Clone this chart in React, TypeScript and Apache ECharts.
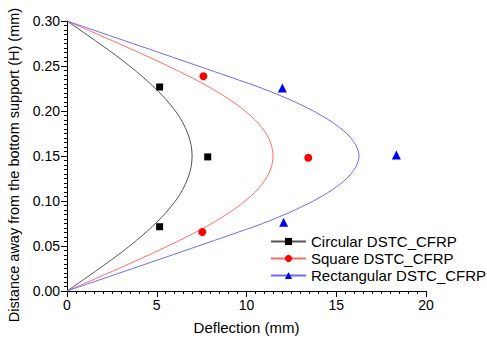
import React, { useEffect, useRef } from "react";
import * as echarts from "echarts";

// Height positions (H) along the column, used for fitted curves
const curveHeights = [
  0, 0.0125, 0.025, 0.0375, 0.05, 0.0625, 0.075, 0.0875, 0.1, 0.1125, 0.125, 0.1375, 0.15,
  0.1625, 0.175, 0.1875, 0.2, 0.2125, 0.225, 0.2375, 0.25, 0.2625, 0.275, 0.2875, 0.3,
];
// Fitted deflection curves (mm)
const circularCurve = [
  0, 0.91, 1.80, 2.67, 3.49, 4.24, 4.93, 5.53, 6.04, 6.44, 6.73, 6.91, 6.97,
  6.91, 6.73, 6.44, 6.04, 5.53, 4.93, 4.24, 3.49, 2.67, 1.80, 0.91, 0,
];
const squareCurve = [
  0, 1.45, 2.88, 4.28, 5.62, 6.90, 8.06, 9.07, 9.92, 10.60, 11.09, 11.38, 11.48,
  11.38, 11.09, 10.60, 9.92, 9.07, 8.06, 6.90, 5.62, 4.28, 2.88, 1.45, 0,
];
const rectCurve = [
  0, 1.83, 3.66, 5.49, 7.31, 9.12, 10.90, 12.42, 13.72, 14.78, 15.58, 16.08, 16.27,
  16.08, 15.58, 14.78, 13.72, 12.42, 10.90, 9.12, 7.31, 5.49, 3.66, 1.83, 0,
];

// Measured points: [deflection (mm), height]
const circularPts = [[5.16, 0.0714], [7.84, 0.149], [5.16, 0.2267]];
const squarePts = [[7.54, 0.0655], [13.44, 0.148], [7.6, 0.2386]];
const rectPts = [[12.07, 0.0765], [18.35, 0.151], [12.0, 0.2255]];

const names = ["Circular DSTC_CFRP", "Square DSTC_CFRP", "Rectangular DSTC_CFRP"];
const xTicks = { min: 0, max: 20, interval: 5 };
const yTicks = { min: 0, max: 0.3, interval: 0.05 };

const FONT = "Liberation Sans, Arial, sans-serif";

export default function App() {
  const ref = useRef<HTMLDivElement>(null);
  useEffect(() => {
    if (!ref.current) return;
    const chart = echarts.init(ref.current, null, { renderer: "svg" });
    const toPairs = (xs: number[]) => xs.map((x, i) => [x, curveHeights[i]]);
    const lineSeries = (name: string, data: number[], lineColor: string, markColor: string, symbol: string) => ({
      name,
      type: "line",
      data: toPairs(data),
      smooth: 0.3,
      showSymbol: false,
      symbol,
      silent: true,
      itemStyle: { color: markColor },
      lineStyle: { color: lineColor, width: 1 },
      z: 2,
    });
    const scatterSeries = (name: string, data: number[][], color: string, symbol: string, size: number) => ({
      name,
      type: "scatter",
      data,
      symbol,
      symbolSize: size,
      itemStyle: { color, opacity: 1 },
      z: 3,
    });
    chart.setOption({
      animation: false,
      backgroundColor: "#fff",
      textStyle: { fontFamily: FONT },
      grid: { left: 67, right: 61, top: 21, bottom: 48, containLabel: false, outerBoundsMode: "none" },
      legend: {
        data: names,
        orient: "vertical",
        left: 265,
        top: 229,
        itemWidth: 35,
        itemHeight: 9,
        itemGap: 2,
        textStyle: { fontSize: 15, fontFamily: FONT, color: "#000" },
      },
      xAxis: {
        type: "value",
        min: xTicks.min,
        max: xTicks.max,
        interval: xTicks.interval,
        name: "Deflection (mm)",
        nameLocation: "middle",
        nameGap: 29,
        nameTextStyle: { fontSize: 15, color: "#000", fontFamily: FONT },
        axisLine: { show: true, onZero: false, lineStyle: { color: "#000", width: 1 } },
        axisTick: { show: true, length: 6, lineStyle: { color: "#000" } },
        minorTick: { show: true, splitNumber: 10, length: 3, lineStyle: { color: "#000" } },
        axisLabel: { fontSize: 14, color: "#000", margin: 7, fontFamily: FONT },
        splitLine: { show: false },
      },
      yAxis: {
        type: "value",
        min: yTicks.min,
        max: yTicks.max,
        interval: yTicks.interval,
        name: "Distance away from the bottom support (H) (mm)",
        nameLocation: "middle",
        nameGap: 44,
        nameTextStyle: { fontSize: 14.5, color: "#000", fontFamily: FONT, padding: [0, 18, 0, 0] },
        axisLine: { show: true, onZero: false, lineStyle: { color: "#000", width: 1 } },
        axisTick: { show: true, length: 6, lineStyle: { color: "#000" } },
        minorTick: { show: true, splitNumber: 10, length: 3, lineStyle: { color: "#000" } },
        axisLabel: {
          fontSize: 14,
          color: "#000",
          margin: 7,
          fontFamily: FONT,
          formatter: (v: number) => v.toFixed(2),
        },
        splitLine: { show: false },
      },
      series: [
        lineSeries(names[0], circularCurve, "#555555", "#000000", "rect"),
        lineSeries(names[1], squareCurve, "#ff6a6a", "#ff0000", "circle"),
        lineSeries(names[2], rectCurve, "#6a6aff", "#0000ff", "triangle"),
        scatterSeries(names[0], circularPts, "#000000", "rect", 7),
        scatterSeries(names[1], squarePts, "#ff0000", "circle", 8),
        scatterSeries(names[2], rectPts, "#0000ff", "triangle", 9),
      ],
    });
    return () => chart.dispose();
  }, []);
  return <div ref={ref} style={{ width: 487, height: 339, position: "absolute", left: 0, top: 0 }} />;
}
